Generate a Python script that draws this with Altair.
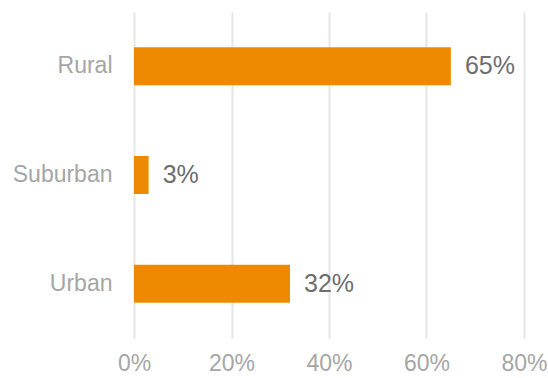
import altair as alt
import pandas as pd

categories = ["Rural", "Suburban", "Urban"]
values = [0.65, 0.03, 0.32]
x_ticks = [0, 0.2, 0.4, 0.6, 0.8]

df = pd.DataFrame({"category": categories, "value": values})

FONT = "Liberation Sans"

base = alt.Chart(df).encode(
    y=alt.Y(
        "category:N",
        sort=categories,
        title=None,
        scale=alt.Scale(paddingInner=0.65, paddingOuter=0.325),
        axis=alt.Axis(
            domain=False,
            ticks=False,
            grid=False,
            labelFont=FONT,
            labelFontSize=23,
            labelColor="#A6A6A6",
            labelPadding=22,
        ),
    ),
    x=alt.X(
        "value:Q",
        title=None,
        scale=alt.Scale(domain=[0, 0.8], nice=False, zero=True),
        axis=alt.Axis(
            values=x_ticks,
            format=".0%",
            domain=False,
            ticks=False,
            grid=True,
            gridColor="#E6E6E6",
            gridWidth=2,
            labelFlush=False,
            labelFont=FONT,
            labelFontSize=23,
            labelColor="#A6A6A6",
            labelPadding=14,
        ),
    ),
)

bars = base.mark_bar(color="#EE8A00")

labels = base.mark_text(
    align="left",
    baseline="middle",
    dx=14,
    font=FONT,
    fontSize=25,
    color="#6E6E6E",
).encode(text=alt.Text("value:Q", format=".0%"))

chart = (
    (bars + labels)
    .properties(
        width=390,
        height=326,
        background="white",
        autosize=alt.AutoSizeParams(type="none"),
        padding={"left": 134, "top": 12, "right": 24, "bottom": 40},
    )
    .configure_view(stroke="transparent", strokeWidth=0)
)

chart.save("out.html", embed_options={"renderer": "svg", "actions": False})
